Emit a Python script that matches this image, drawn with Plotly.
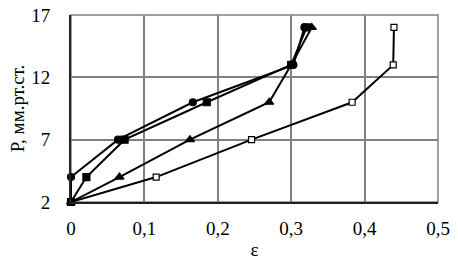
import plotly.graph_objects as go

# Data
circle_x = [0, 0, 0.064, 0.166, 0.303, 0.318]
circle_y = [2, 4, 7, 10, 13, 16]

square_x = [0, 0.021, 0.073, 0.185, 0.300, 0.321]
square_y = [2, 4, 7, 10, 13, 16]

triangle_x = [0, 0.066, 0.162, 0.270, 0.300, 0.328]
triangle_y = [2, 4, 7, 10, 13, 16]

open_x = [0, 0.116, 0.246, 0.383, 0.439, 0.440]
open_y = [2, 4, 7, 10, 13, 16]

x_ticks = [0, 0.1, 0.2, 0.3, 0.4, 0.5]
x_labels = ["0", "0,1", "0,2", "0,3", "0,4", "0,5"]
y_ticks = [2, 7, 12, 17]

fig = go.Figure()

def add(x, y, symbol, fill, size):
    fig.add_trace(go.Scatter(
        x=x, y=y, mode="lines+markers",
        line=dict(color="black", width=2),
        marker=dict(symbol=symbol, size=size, color=fill,
                    line=dict(color="black", width=1.2)),
        showlegend=False, cliponaxis=False))

add(open_x, open_y, "square", "white", 6)
add(triangle_x, triangle_y, "triangle-up", "black", 8)
add(square_x, square_y, "square", "black", 7)
add(circle_x, circle_y, "circle", "black", 7)

tick_font = dict(family="Liberation Serif", size=19, color="black")
title_font = dict(family="Liberation Serif", size=19, color="black")

fig.update_layout(
    width=458, height=272,
    margin=dict(l=71, r=20, t=15, b=70, autoexpand=False),
    paper_bgcolor="white", plot_bgcolor="white",
    separators=", ",
    font=tick_font,
    shapes=[dict(type="rect", xref="paper", yref="paper", x0=0, y0=0, x1=1, y1=1,
                 line=dict(color="#808080", width=1.5), layer="below")],
    xaxis=dict(range=[0, 0.5], tickvals=x_ticks, ticktext=x_labels, tickfont=tick_font,
               showgrid=True, gridcolor="#808080", gridwidth=1.5,
               zeroline=False, showline=True, linecolor="#222222", linewidth=2,
               ticks="", ticklabelstandoff=8, automargin=False,
               title=dict(text="ε", font=title_font, standoff=5)),
    yaxis=dict(range=[2, 17], tickvals=y_ticks, tickfont=tick_font,
               showgrid=True, gridcolor="#808080", gridwidth=1.5,
               zeroline=False, showline=True, linecolor="#222222", linewidth=2,
               ticks="", ticklabelstandoff=15, automargin=False,
               title=dict(text="P, мм.рт.ст.", font=title_font, standoff=2)),
)

fig.write_html("out.html",
               config={"displayModeBar": False},
               post_script="document.body.style.margin='0';document.body.style.overflow='hidden';")
